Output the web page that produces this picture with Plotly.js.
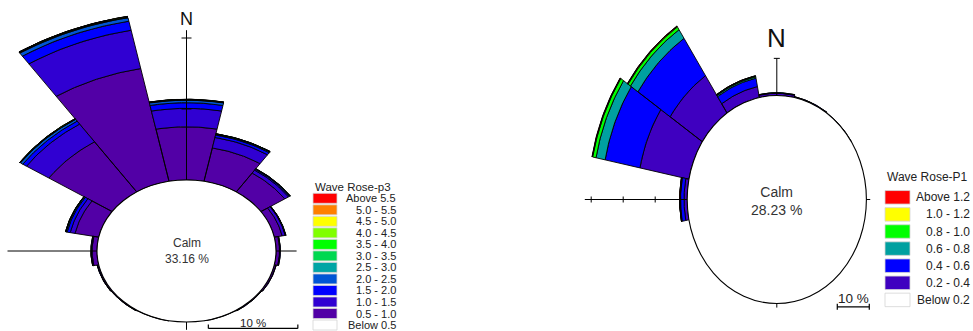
<!DOCTYPE html>
<html><head><meta charset="utf-8">
<script src="https://cdn.plot.ly/plotly-3.0.1.min.js"></script>
<style>html,body{margin:0;padding:0;background:#fff}#chart{width:973px;height:331px}</style>
</head><body><div id="chart"></div>
<script>
// ---------------- DATA ----------------
const directions = ['N','NNE','NE','ENE','E','ESE','SE','SSE','S','SSW','SW','WSW','W','WNW','NW','NNW'];
const directionAngles = [0,22.5,45,67.5,90,112.5,135,157.5,180,202.5,225,247.5,270,292.5,315,337.5];

// Left rose: Wave Rose-p3 (frequency %, per direction N..NNW)
const p3Title = 'Wave Rose-p3';
const p3Calm = 33.16;
const p3Labels = ['0.5 - 1.0','1.0 - 1.5','1.5 - 2.0','2.0 - 2.5','2.5 - 3.0','3.0 - 3.5','3.5 - 4.0','4.0 - 4.5','4.5 - 5.0','5.0 - 5.5','Above 5.5'];
const p3BelowLabel = 'Below 0.5';
const p3_0p5_1p0 = [7.5, 4.8, 3.2, 0.9, 0.4, 0.2, 0.12, 0.05, 0, 0.05, 0.12, 0.15, 0.55, 2.7, 8.5, 16.2];
const p3_1p0_1p5 = [2.6, 1.5, 0.5, 0.35, 0.08, 0.03, 0.02, 0, 0, 0, 0.02, 0.03, 0.1, 0.55, 3.0, 5.5];
const p3_1p5_2p0 = [0.8, 0.35, 0.15, 0.05, 0.02, 0, 0, 0, 0, 0, 0, 0.01, 0.03, 0.35, 0.5, 1.3];
const p3_2p0_2p5 = [0.35, 0.12, 0.06, 0.02, 0, 0, 0, 0, 0, 0, 0, 0, 0.01, 0.12, 0.3, 0.5];
const p3_2p5_3p0 = [0.06, 0.04, 0.03, 0.01, 0, 0, 0, 0, 0, 0, 0, 0, 0, 0.04, 0.06, 0.08];
const p3_3p0_3p5 = [0.04, 0.02, 0.02, 0, 0, 0, 0, 0, 0, 0, 0, 0, 0, 0.02, 0.04, 0.05];
const p3_3p5_4p0 = [0.02, 0.01, 0, 0, 0, 0, 0, 0, 0, 0, 0, 0, 0, 0.01, 0.02, 0.04];
const p3_4p0_4p5 = [0.01, 0, 0, 0, 0, 0, 0, 0, 0, 0, 0, 0, 0, 0, 0.01, 0.02];
const p3_4p5_5p0 = [0, 0, 0, 0, 0, 0, 0, 0, 0, 0, 0, 0, 0, 0, 0, 0.01];
const p3_5p0_5p5 = [0, 0, 0, 0, 0, 0, 0, 0, 0, 0, 0, 0, 0, 0, 0, 0];
const p3_above5p5 = [0, 0, 0, 0, 0, 0, 0, 0, 0, 0, 0, 0, 0, 0, 0, 0];
const p3Series = [p3_0p5_1p0,p3_1p0_1p5,p3_1p5_2p0,p3_2p0_2p5,p3_2p5_3p0,p3_3p0_3p5,p3_3p5_4p0,p3_4p0_4p5,p3_4p5_5p0,p3_5p0_5p5,p3_above5p5];

// Right rose: Wave Rose-P1
const p1Title = 'Wave Rose-P1';
const p1Calm = 28.23;
const p1Labels = ['0.2 - 0.4','0.4 - 0.6','0.6 - 0.8','0.8 - 1.0','1.0 - 1.2','Above 1.2'];
const p1BelowLabel = 'Below 0.2';
const p1_0p2_0p4 = [0.6, 0.2, 0.08, 0, 0, 0, 0, 0, 0, 0, 0, 0, 1.0, 15.6, 12.1, 3.0];
const p1_0p4_0p6 = [0.15, 0.03, 0, 0, 0, 0, 0, 0, 0, 0, 0, 0, 1.1, 11.1, 12.1, 2.3];
const p1_0p6_0p8 = [0.03, 0, 0, 0, 0, 0, 0, 0, 0, 0, 0, 0, 0.15, 2.9, 2.8, 0.35];
const p1_0p8_1p0 = [0, 0, 0, 0, 0, 0, 0, 0, 0, 0, 0, 0, 0.08, 1.05, 0.9, 0.2];
const p1_1p0_1p2 = [0, 0, 0, 0, 0, 0, 0, 0, 0, 0, 0, 0, 0.03, 0.15, 0.2, 0.08];
const p1_above1p2 = [0, 0, 0, 0, 0, 0, 0, 0, 0, 0, 0, 0, 0.01, 0.1, 0.1, 0.03];
const p1Series = [p1_0p2_0p4,p1_0p4_0p6,p1_0p6_0p8,p1_0p8_1p0,p1_1p0_1p2,p1_above1p2];

const scaleLabel = '10 %';
const scaleValue = 10;

// ---------------- STYLE ----------------
const p3Colors = ['#5200a6','#3000d2','#0000ff','#0055d5','#00a5a5','#00d850','#00ff00','#80ff00','#ffff00','#ff8000','#ff0000'];
const p1Colors = ['#3f00c0','#0000ff','#00a0a0','#00ff00','#ffff00','#ff0000'];

const W = 973, H = 331;
const FONT = 'Liberation Sans, Arial, sans-serif';
// chart geometry (pixel centre, px per % unit horizontally/vertically, calm radius in % units)
const G1 = {cx:186.5, cy:251, sx:8.95, sy:7.1, R0:10, px0:0, px1:330, xa:'x', ya:'y'};
const G2 = {cx:776.8, cy:199.5, sx:3.2, sy:3.714, R0:28, px0:560, px1:973, xa:'x2', ya:'y2'};

function axisCfg(g){
  return {
    x:{domain:[g.px0/W, g.px1/W], range:[(g.px0-g.cx)/g.sx, (g.px1-g.cx)/g.sx], visible:false, fixedrange:true},
    y:{domain:[0,1], range:[(g.cy-H)/g.sy, g.cy/g.sy], visible:false, fixedrange:true}
  };
}

function wedgeTraces(g, series, colors){
  const traces = [];
  const cum = directions.map(()=>0);
  series.forEach((vals, k)=>{
    const xs=[], ys=[];
    vals.forEach((v,i)=>{
      const r1 = g.R0 + cum[i];
      const r2 = r1 + v;
      cum[i] += v;
      if (v <= 0) return;
      const c = directionAngles[i], half = 11.25, n = 30;
      for (let j=0;j<=n;j++){ const t=(c-half+2*half*j/n)*Math.PI/180; xs.push(r2*Math.sin(t)); ys.push(r2*Math.cos(t)); }
      for (let j=n;j>=0;j--){ const t=(c-half+2*half*j/n)*Math.PI/180; xs.push(r1*Math.sin(t)); ys.push(r1*Math.cos(t)); }
      xs.push(xs[xs.length-2*n-2]); ys.push(ys[ys.length-2*n-2]);
      xs.push(null); ys.push(null);
    });
    if (xs.length) traces.push({type:'scatter', mode:'lines', x:xs, y:ys, fill:'toself', fillcolor:colors[k],
      line:{color:'#000', width:0.9}, xaxis:g.xa, yaxis:g.ya, hoverinfo:'skip', showlegend:false, connectgaps:false});
  });
  return traces;
}

const shapes = [], annotations = [];
function line(g, x0,y0,x1,y1,w){ shapes.push({type:'line', xref:g.xa, yref:g.ya, x0,y0,x1,y1, line:{color:'#000', width:w||1}, layer:'above'}); }
function text(g, x, y, t, size, color){ annotations.push({xref:g.xa, yref:g.ya, x, y, text:t, showarrow:false, xanchor:'center', yanchor:'middle', align:'center', font:{family:FONT, size, color:color||'#222'}}); }

function decorate(g, calm, opt){
  const R = g.R0;
  shapes.push({type:'circle', xref:g.xa, yref:g.ya, x0:-R, x1:R, y0:-R, y1:R, fillcolor:'#fff', line:{color:'#000', width:1.1}, layer:'above'});
  line(g, 0, R, 0, R+opt.nLen);
  opt.nTicks.forEach(d=>line(g, -opt.tickPx/g.sx, R+d, opt.tickPx/g.sx, R+d));
  line(g, -R, 0, -(R+opt.wLen), 0);
  opt.wTicks.forEach(d=>line(g, -(R+d), -opt.tickPx/g.sy, -(R+d), opt.tickPx/g.sy));
  line(g, R, 0, R+opt.eLen, 0);
  line(g, 0, -R, 0, -(R+opt.sLen));
  text(g, 0, R+opt.nLabel, 'N', opt.nSize, '#111');
  text(g, 0, opt.calmY, 'Calm<br>'+calm.toFixed(2)+' %', opt.calmSize, '#333');
  const [sx0, sy0] = opt.scaleAt;
  line(g, sx0, sy0, sx0+scaleValue, sy0, 1.2);
  line(g, sx0, sy0-opt.scaleTick[0]/g.sy, sx0, sy0+opt.scaleTick[1]/g.sy, 1.2);
  line(g, sx0+scaleValue, sy0-opt.scaleTick[0]/g.sy, sx0+scaleValue, sy0+opt.scaleTick[1]/g.sy, 1.2);
  text(g, sx0+scaleValue/2, sy0+opt.scaleTextDy/g.sy, scaleLabel, opt.scaleSize, '#222');
}

function legend(title, labels, below, colors, o){
  annotations.push({xref:'paper', yref:'paper', x:o.x0/W, y:1-o.titleY/H, text:title, showarrow:false, xanchor:'left', yanchor:'middle', font:{family:FONT, size:o.titleSize, color:'#222'}});
  const items = labels.map((l,i)=>({l, c:colors[i]})).reverse();
  items.push({l:below, c:'#ffffff'});
  items.forEach((it,i)=>{
    const cy = o.y0 + i*o.dy;
    shapes.push({type:'rect', xref:'paper', yref:'paper', x0:o.x0/W, x1:(o.x0+o.sw)/W, y0:1-(cy+o.sh/2)/H, y1:1-(cy-o.sh/2)/H,
      fillcolor:it.c, line:{color:'#d4d4d4', width:0.8}});
    annotations.push({xref:'paper', yref:'paper', x:o.xr/W, y:1-cy/H, text:it.l, showarrow:false, xanchor:'right', yanchor:'middle', font:{family:FONT, size:o.size, color:'#222'}});
  });
}

const traces = [...wedgeTraces(G1, p3Series, p3Colors), ...wedgeTraces(G2, p1Series, p1Colors)];

decorate(G1, p3Calm, {nLen:21.1, nTicks:[10,20], tickPx:5, wLen:10, wTicks:[], eLen:2.3, sLen:1.1, nLabel:22.7, nSize:18,
  calmY:-0.05, calmSize:12, scaleAt:[2.44,-10.9], scaleTick:[0,4], scaleTextDy:5, scaleSize:11.5});
decorate(G2, p1Calm, {nLen:10, nTicks:[10], tickPx:3, wLen:32, wTicks:[10,20,30], eLen:1.2, sLen:1.1, nLabel:15.4, nSize:26,
  calmY:-0.36, calmSize:14, scaleAt:[18.9,-28.9], scaleTick:[3,3], scaleTextDy:8.4, scaleSize:13.5});

legend(p3Title, p3Labels, p3BelowLabel, p3Colors, {x0:313, titleY:186.7, titleSize:11.5, y0:198.3, dy:11.52, sw:24, sh:10, xr:398, size:11});
legend(p1Title, p1Labels, p1BelowLabel, p1Colors, {x0:885, titleY:176.7, titleSize:12, y0:197.3, dy:17.1, sw:25, sh:13.5, xr:971.5, size:12});

const a1 = axisCfg(G1), a2 = axisCfg(G2);
const layout = {
  width:W, height:H, margin:{l:0,r:0,t:0,b:0}, paper_bgcolor:'#fff', plot_bgcolor:'rgba(0,0,0,0)', showlegend:false,
  xaxis:a1.x, yaxis:a1.y, xaxis2:Object.assign({anchor:'y2'}, a2.x), yaxis2:Object.assign({anchor:'x2'}, a2.y),
  shapes, annotations
};
Plotly.newPlot('chart', traces, layout, {staticPlot:true, displayModeBar:false});
</script></body></html>
